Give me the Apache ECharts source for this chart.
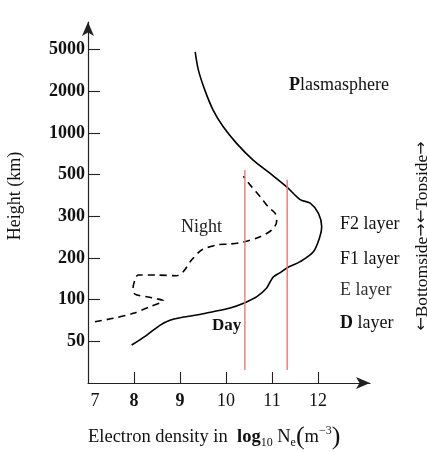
<!DOCTYPE html>
<html>
<head>
<meta charset="utf-8">
<script src="https://cdn.jsdelivr.net/npm/echarts@6/dist/echarts.min.js"></script>
<style>html,body{margin:0;padding:0;background:#fff;}#c{width:427px;height:452px;}</style>
</head>
<body>
<div id="c"></div>
<script>
// Tick labels
const HEIGHT_TICKS = [50, 100, 200, 300, 500, 1000, 2000, 5000]; // km, equally spaced on the axis
const NE_TICKS = [7, 8, 9, 10, 11, 12];
const NE_BOLD = [8, 9];

// Day profile (solid): log10 Ne vs height km
const DAY_NE = [7.95, 8.28, 8.57, 8.78, 9.0, 9.36, 9.72, 10.09, 10.41, 10.67, 10.88, 10.96, 11.03, 11.17, 11.33, 11.61, 11.90, 12.04, 12.08, 12.01, 11.83, 11.61, 11.32, 10.96, 10.59, 10.23, 9.94, 9.72, 9.54, 9.40, 9.33];
const DAY_H  = [47, 55.5, 65.5, 71, 74, 77.4, 81.8, 87, 95, 105, 120.7, 134.6, 146, 156, 170, 188, 212.5, 245.7, 271, 311, 352, 368, 430, 510, 636, 840, 1106, 1461, 2048, 3178, 4751];

// Night profile (dashed)
const NIGHT_NE = [7.15, 7.55, 7.98, 8.35, 8.64, 8.49, 8.27, 8.02, 7.98, 8.02, 8.09, 8.49, 8.93, 9.07, 9.25, 9.47, 9.80, 10.09, 10.38, 10.74, 10.99, 11.10, 11.07, 10.92, 10.74, 10.56, 10.41, 10.38];
const NIGHT_H  = [69.3, 73.3, 79.6, 88.9, 98.2, 101.5, 105, 109.7, 120.7, 138.6, 150.5, 150.5, 148.8, 159, 193, 216, 227, 229, 233.6, 245.7, 262, 284.6, 311, 336, 382, 430, 478, 491];

// Red reference lines
const REF_NE = [10.41, 11.33];
const REF_TOP_H = [540, 469];
const REF_BOTTOM_H = 31;

// Map km onto the axis positions of the height tick labels (piecewise log)
function hPos(km) {
  const t = HEIGHT_TICKS;
  if (km <= t[0]) return 1 + Math.log(km / t[0]) / Math.log(t[1] / t[0]);
  for (let i = 0; i < t.length - 1; i++) {
    if (km <= t[i + 1]) return i + 1 + Math.log(km / t[i]) / Math.log(t[i + 1] / t[i]);
  }
  const n = t.length;
  return n + Math.log(km / t[n - 1]) / Math.log(t[n - 1] / t[n - 2]);
}

const serif = '"Liberation Serif", "DejaVu Serif", serif';
const chart = echarts.init(document.getElementById('c'));

const axisColor = '#222';
const option = {
  animation: false,
  grid: { left: 88, right: 57, top: 22, bottom: 69, containLabel: false, outerBoundsMode: 'none' },
  xAxis: {
    type: 'value', min: 7, max: 13.13, interval: 1,
    axisLine: { lineStyle: { color: axisColor, width: 1.2 }, symbol: ['none', 'arrow'], symbolSize: [9, 14] },
    axisTick: { inside: true, length: 11, lineStyle: { color: axisColor, width: 1.1 }, customValues: NE_TICKS.slice(1) },
    axisLabel: {
      customValues: NE_TICKS, margin: 9, color: '#111', fontFamily: serif, fontSize: 18,
      formatter: function (v) {
        if (v === NE_TICKS[0]) return '{f|' + v + '}';
        return NE_BOLD.indexOf(v) >= 0 ? '{b|' + v + '}' : '{n|' + v + '}';
      },
      rich: {
        n: { fontFamily: serif, fontSize: 18, color: '#111' },
        b: { fontFamily: serif, fontSize: 18, fontWeight: 'bold', color: '#111' },
        f: { fontFamily: serif, fontSize: 18, color: '#111', padding: [0, 0, 0, 14] }
      }
    },
    splitLine: { show: false }
  },
  yAxis: {
    type: 'value', min: 0, max: 8.66, interval: 1,
    axisLine: { lineStyle: { color: axisColor, width: 1.2 }, symbol: ['none', 'arrow'], symbolSize: [9, 14] },
    axisTick: { inside: true, length: 12, lineStyle: { color: axisColor, width: 1.1 }, customValues: [1, 2, 3, 4, 5, 6, 7, 8] },
    axisLabel: {
      customValues: [1, 2, 3, 4, 5, 6, 7, 8], margin: 3, color: '#111',
      fontFamily: serif, fontSize: 18, fontWeight: 'bold',
      formatter: function (v) { return HEIGHT_TICKS[v - 1] !== undefined ? String(HEIGHT_TICKS[v - 1]) : ''; }
    },
    splitLine: { show: false }
  },
  series: [
    {
      name: 'Day', type: 'line', smooth: 0.3, showSymbol: false, symbol: 'none',
      data: DAY_NE.map((x, i) => [x, hPos(DAY_H[i])]),
      lineStyle: { color: '#000', width: 1.6 }
    },
    {
      name: 'Night', type: 'line', smooth: 0.3, showSymbol: false, symbol: 'none',
      data: NIGHT_NE.map((x, i) => [x, hPos(NIGHT_H[i])]),
      lineStyle: { color: '#000', width: 1.6, type: [7, 5] }
    },
    ...REF_NE.map((x, i) => ({
      type: 'line', showSymbol: false, symbol: 'none',
      data: [[x, hPos(REF_BOTTOM_H)], [x, hPos(REF_TOP_H[i])]],
      lineStyle: { color: '#ee7777', width: 1.4 }
    }))
  ],
  graphic: [
    { type: 'text', x: 15, y: 196, rotation: Math.PI / 2,
      style: { text: 'Height (km)', x: 0, y: 0, textAlign: 'center', textVerticalAlign: 'middle', font: '18px ' + serif, fill: '#111' } },
    { type: 'text', style: { text: '{b|P}lasmasphere', x: 289, y: 85, textAlign: 'left', textVerticalAlign: 'middle', font: '18px ' + serif, fill: '#111',
      rich: { b: { fontFamily: serif, fontSize: 18, fontWeight: 'bold', color: '#111' } } } },
    { type: 'text', style: { text: 'Night', x: 181, y: 227, textAlign: 'left', textVerticalAlign: 'middle', font: '18px ' + serif, fill: '#222' } },
    { type: 'text', style: { text: 'Day', x: 212, y: 326, textAlign: 'left', textVerticalAlign: 'middle', font: 'bold 17px ' + serif, fill: '#111' } },
    { type: 'text', style: { text: 'F2 layer', x: 340, y: 224, textAlign: 'left', textVerticalAlign: 'middle', font: '18px ' + serif, fill: '#111' } },
    { type: 'text', style: { text: 'F1 layer', x: 340, y: 259, textAlign: 'left', textVerticalAlign: 'middle', font: '18px ' + serif, fill: '#111' } },
    { type: 'text', style: { text: 'E layer', x: 340, y: 290, textAlign: 'left', textVerticalAlign: 'middle', font: '18px ' + serif, fill: '#333' } },
    { type: 'text', style: { text: '{b|D} layer', x: 340, y: 323, textAlign: 'left', textVerticalAlign: 'middle', font: '18px ' + serif, fill: '#111',
      rich: { b: { fontFamily: serif, fontSize: 18, fontWeight: 'bold', color: '#111' } } } },
    { type: 'text', x: 422, y: 236, rotation: Math.PI / 2,
      style: { text: '{a|←}{t|Bottomside}{a|→←}{t|Topside}{a|→}', x: 0, y: 0, textAlign: 'center', textVerticalAlign: 'middle', font: '17px ' + serif, fill: '#111',
        rich: {
          a: { fontFamily: '"DejaVu Sans", sans-serif', fontSize: 16, color: '#111' },
          t: { fontFamily: serif, fontSize: 17.5, color: '#111' }
        } } },
    { type: 'text', style: {
        text: '{a|Electron density in  }{b|log}{s|10}{a| N}{s|e}{p|(}{a|m}{u|−3}{p|)}',
        x: 88, y: 437, textAlign: 'left', textVerticalAlign: 'middle', font: '18px ' + serif, fill: '#111',
        rich: {
          a: { fontFamily: serif, fontSize: 18.5, lineHeight: 24, color: '#111' },
          b: { fontFamily: serif, fontSize: 18.5, lineHeight: 24, fontWeight: 'bold', color: '#111' },
          s: { fontFamily: serif, fontSize: 12, lineHeight: 11, verticalAlign: 'bottom', color: '#111' },
          u: { fontFamily: serif, fontSize: 12, lineHeight: 11, verticalAlign: 'top', color: '#111' },
          p: { fontFamily: serif, fontSize: 26, lineHeight: 24, color: '#111' }
        } } }
  ]
};
chart.setOption(option);
</script>
</body>
</html>
